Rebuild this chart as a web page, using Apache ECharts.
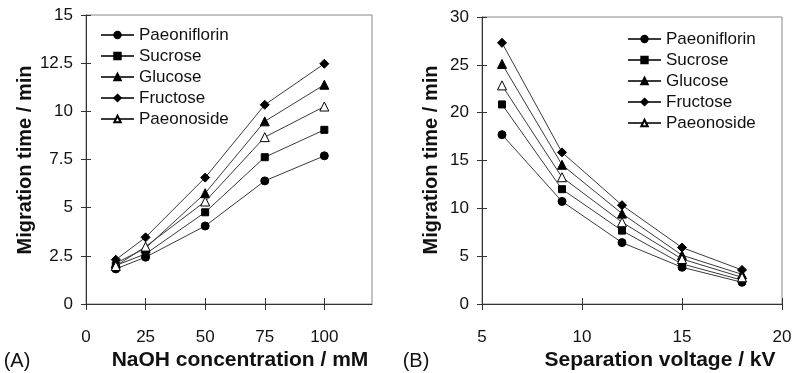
<!DOCTYPE html>
<html>
<head>
<meta charset="utf-8">
<script src="https://cdn.jsdelivr.net/npm/echarts@6/dist/echarts.min.js"></script>
<style>
  html, body { margin: 0; padding: 0; background: #fff; }
  #chart { width: 795px; height: 373px; }
</style>
</head>
<body>
<div id="chart"></div>
<script>
// (A) migration time vs NaOH concentration
const naohConc = [12.5, 25, 50, 75, 100];
const paeoniflorinA = [1.82, 2.43, 4.05, 6.39, 7.69];
const sucroseA = [2.0, 2.6, 4.76, 7.62, 9.04];
const glucoseA = [2.12, 2.9, 5.75, 9.48, 11.38];
const fructoseA = [2.3, 3.46, 6.56, 10.34, 12.47];
const paeonosideA = [1.97, 2.98, 5.32, 8.66, 10.25];

// (B) migration time vs separation voltage
const voltage = [6, 9, 12, 15, 18];
const paeoniflorinB = [17.7, 10.72, 6.42, 3.84, 2.27];
const sucroseB = [20.86, 12.0, 7.67, 4.19, 2.5];
const glucoseB = [25.1, 14.55, 9.45, 5.1, 3.1];
const fructoseB = [27.3, 15.85, 10.33, 5.9, 3.56];
const paeonosideB = [22.85, 13.25, 8.55, 4.7, 2.79];

const compounds = ["Paeoniflorin", "Sucrose", "Glucose", "Fructose", "Paeonoside"];
const xTicksA = [0, 25, 50, 75, 100];

const markers = [
  { symbol: "circle", size: 8, fill: "#000" },
  { symbol: "rect", size: 7, fill: "#000" },
  { symbol: "triangle", size: 9, fill: "#000" },
  { symbol: "diamond", size: 9, fill: "#000" },
  { symbol: "triangle", size: 9, fill: "#fff" }
];

const font = "Liberation Sans, Arial, sans-serif";
const axisCol = "#333";

const chart = echarts.init(document.getElementById("chart"));

function mkSeries(name, i, xs, ys, gridIdx) {
  const m = markers[i];
  return {
    name: name,
    type: "line",
    xAxisIndex: gridIdx * 2,
    yAxisIndex: gridIdx * 2,
    data: xs.map((x, k) => [x, ys[k]]),
    symbol: m.symbol,
    symbolSize: m.size,
    showAllSymbol: true,
    lineStyle: { color: "#3a3a3a", width: 1 },
    itemStyle: { color: m.fill, borderColor: "#000", borderWidth: 1 },
    emphasis: { disabled: true },
    z: 3 + i
  };
}

// main axis (outside ticks + labels) plus a twin with inside ticks so ticks cross the line
function xAxes(gridIdx, min, max, interval, custom) {
  const main = {
    type: "value", gridIndex: gridIdx, min: min, max: max, interval: interval,
    position: "bottom",
    axisLine: { lineStyle: { color: axisCol, width: 1 } },
    axisTick: { length: 6, lineStyle: { color: axisCol } },
    axisLabel: { color: "#111", fontSize: 17, fontFamily: font, margin: 25 },
    splitLine: { show: false }
  };
  if (custom) {
    main.axisTick.customValues = custom;
    main.axisLabel.customValues = custom;
  }
  const twin = {
    type: "value", gridIndex: gridIdx, min: min, max: max, interval: interval,
    position: "bottom",
    axisLine: { show: false },
    axisTick: { inside: true, length: 6, lineStyle: { color: axisCol } },
    axisLabel: { show: false },
    splitLine: { show: false }
  };
  if (custom) twin.axisTick.customValues = custom;
  return [main, twin];
}

function yAxes(gridIdx, min, max, interval) {
  return [{
    type: "value", gridIndex: gridIdx, min: min, max: max, interval: interval,
    position: "left",
    axisLine: { show: true, lineStyle: { color: axisCol, width: 1 } },
    axisTick: { show: true, length: 5, lineStyle: { color: axisCol } },
    axisLabel: { color: "#111", fontSize: 17, fontFamily: font, margin: 13 },
    splitLine: { show: false }
  }, {
    type: "value", gridIndex: gridIdx, min: min, max: max, interval: interval,
    position: "left",
    axisLine: { show: false },
    axisTick: { show: true, inside: true, length: 5, lineStyle: { color: axisCol } },
    axisLabel: { show: false },
    splitLine: { show: false }
  }];
}

function legend(left, top) {
  return {
    orient: "vertical", left: left, top: top, padding: 0,
    itemWidth: 33, itemHeight: 8, itemGap: 1,
    data: compounds,
    selectedMode: false,
    textStyle: { fontSize: 17, fontFamily: font, color: "#111", lineHeight: 20 }
  };
}

function txt(x, y, s, size, bold, rot) {
  return {
    type: "text", x: x, y: y, rotation: rot || 0,
    style: {
      text: s, fill: "#111", font: (bold ? "bold " : "") + size + "px " + font,
      align: "center", verticalAlign: "middle"
    }
  };
}

const series = [];
[paeoniflorinA, sucroseA, glucoseA, fructoseA, paeonosideA].forEach((ys, i) =>
  series.push(mkSeries(compounds[i], i, naohConc, ys, 0)));
[paeoniflorinB, sucroseB, glucoseB, fructoseB, paeonosideB].forEach((ys, i) =>
  series.push(mkSeries(compounds[i], i, voltage, ys, 1)));

chart.setOption({
  animation: false,
  backgroundColor: "#fff",
  grid: [
    { left: 86, top: 15, width: 286, height: 289, show: true, borderColor: "#888", borderWidth: 1 },
    { left: 482, top: 17, width: 300, height: 287, show: true, borderColor: "#888", borderWidth: 1 }
  ],
  xAxis: [
    ...xAxes(0, 0, 120, 25, xTicksA),
    ...xAxes(1, 5, 20, 5)
  ],
  yAxis: [
    ...yAxes(0, 0, 15, 2.5),
    ...yAxes(1, 0, 30, 5)
  ],
  legend: [legend(100, 25), legend(627, 29)],
  series: series,
  graphic: [
    txt(25, 160, "Migration time / min", 20, true, Math.PI / 2),
    txt(431, 160, "Migration time / min", 20, true, Math.PI / 2),
    txt(240, 360, "NaOH concentration / mM", 21, true),
    txt(660, 360, "Separation voltage / kV", 21, true),
    txt(17, 361, "(A)", 20, false),
    txt(416, 361, "(B)", 20, false)
  ]
});
</script>
</body>
</html>
